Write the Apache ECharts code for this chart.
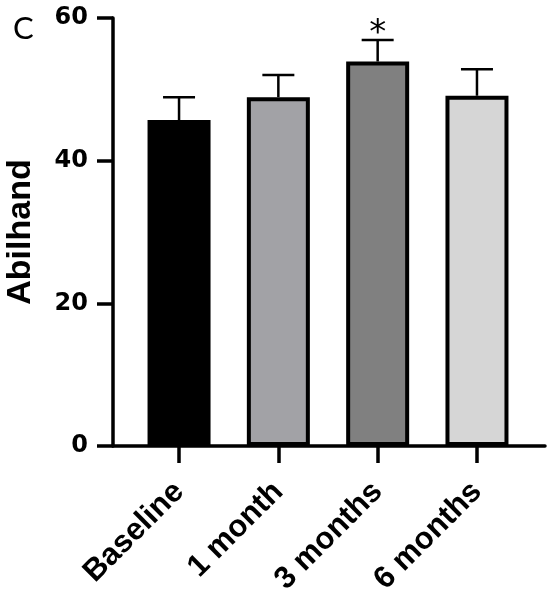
<!DOCTYPE html>
<html>
<head>
<meta charset="utf-8">
<script src="https://cdn.jsdelivr.net/npm/echarts@6/dist/echarts.min.js"></script>
<style>
  html, body { margin: 0; padding: 0; background: #fff; }
  #chart { width: 552px; height: 600px; }
</style>
</head>
<body>
<div id="chart"></div>
<script>
const categories = ['Baseline', '1 month', '3 months', '6 months']
const means = [45.7, 48.9, 53.9, 49.1]
const errors = [3.2, 3.1, 3.0, 3.7]
const marks = ['', '', '*', '']
const barColors = ['#000000', '#a2a2a6', '#808080', '#d6d6d6']
const yTicks = [0, 20, 40, 60]

const chart = echarts.init(document.getElementById('chart'))
const font = '"Liberation Sans", Arial, sans-serif'
const positions = categories.map((c, i) => i)

chart.setOption({
  animation: false,
  title: {
    text: 'C', left: 8, top: 8,
    textStyle: { fontFamily: 'Lato, sans-serif', fontWeight: 'normal', fontSize: 31, color: '#000' }
  },
  grid: { left: 113, right: 7, top: 18, bottom: 154, outerBoundsMode: 'none', containLabel: false },
  xAxis: {
    type: 'value', min: -0.665, max: 3.685,
    splitLine: { show: false },
    axisLine: { show: true, onZero: false, lineStyle: { color: '#000', width: 3.5 } },
    axisTick: { show: true, customValues: positions, length: 17, lineStyle: { color: '#000', width: 3.5 } },
    axisLabel: {
      customValues: positions, rotate: 45, margin: 41,
      formatter: v => categories[Math.round(v)],
      fontFamily: font, fontWeight: 'bold', fontSize: 31, color: '#000'
    }
  },
  yAxis: {
    type: 'value', min: 0, max: 60, interval: 20,
    name: 'Abilhand', nameLocation: 'middle', nameGap: 75, nameRotate: 90,
    nameTextStyle: { fontFamily: font, fontWeight: 'bold', fontSize: 34, color: '#000' },
    splitLine: { show: false },
    axisLine: { show: true, onZero: false, lineStyle: { color: '#000', width: 3.5 } },
    axisTick: { show: true, length: 16, lineStyle: { color: '#000', width: 3.5 } },
    axisLabel: {
      margin: 25, fontFamily: '"DejaVu Sans", sans-serif', fontWeight: 'bold', fontSize: 24, color: '#000',
      formatter: v => (yTicks.includes(v) ? String(v) : '')
    }
  },
  series: [
    {
      type: 'bar',
      barWidth: 63,
      data: means.map((m, i) => ({
        value: [i, m],
        itemStyle: { color: barColors[i], borderColor: '#000', borderWidth: 4 }
      }))
    },
    {
      type: 'custom',
      z: 1,
      data: means.map((m, i) => [i, m, m + errors[i], marks[i]]),
      renderItem: (params, api) => {
        const x = api.value(0)
        const top = api.coord([x, api.value(1)])
        const hi = api.coord([x, api.value(2)])
        const half = 16
        const style = { stroke: '#000', lineWidth: 2.5 }
        const children = [
          { type: 'line', shape: { x1: top[0], y1: top[1], x2: hi[0], y2: hi[1] }, style },
          { type: 'line', shape: { x1: hi[0] - half, y1: hi[1], x2: hi[0] + half, y2: hi[1] }, style }
        ]
        const mark = marks[params.dataIndex]
        if (mark) {
          children.push({
            type: 'text',
            style: {
              text: mark, x: hi[0], y: hi[1] + 11,
              align: 'center', verticalAlign: 'bottom',
              font: 'normal 34px "DejaVu Sans", sans-serif', fill: '#000'
            }
          })
        }
        return { type: 'group', children }
      }
    }
  ]
})
</script>
</body>
</html>
